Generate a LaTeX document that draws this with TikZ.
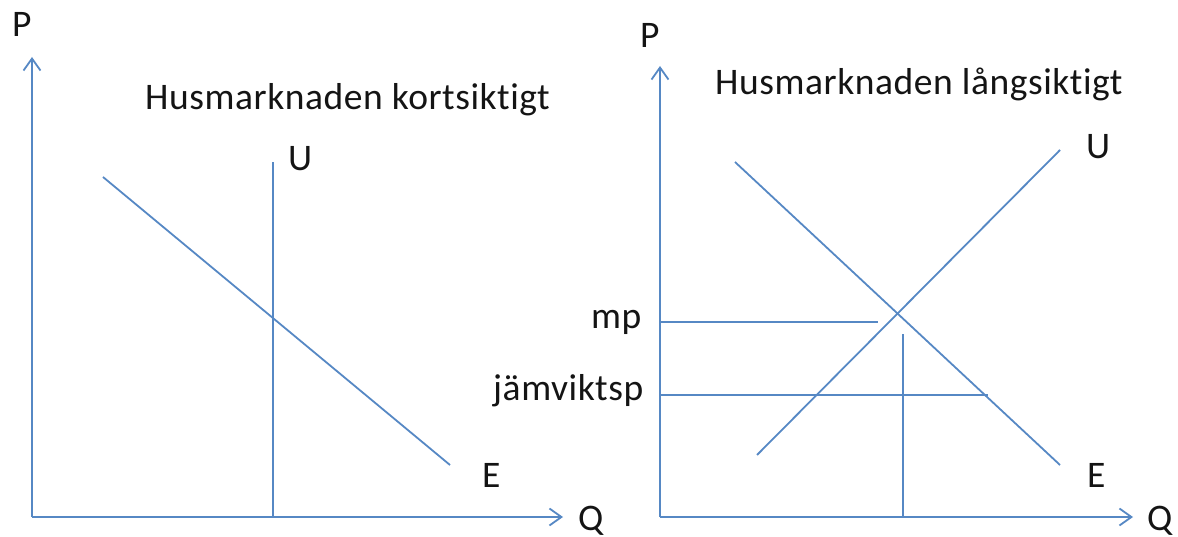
\documentclass[tikz,border=0pt]{standalone}
\usepackage{fontspec}
\setmainfont[Ligatures={NoCommon},LetterSpace=1.5]{Carlito}
\usetikzlibrary{arrows.meta}
\definecolor{lineblue}{RGB}{86,136,196}
\definecolor{txt}{RGB}{20,20,20}
\begin{document}
\begin{tikzpicture}[x=1pt,y=-1pt,
  ln/.style={draw=lineblue,line width=1.8pt},
  axis/.style={ln,-{Straight Barb[length=12pt,width=17pt,line width=1.8pt]}},
  lbl/.style={anchor=base west,inner sep=0pt,text=txt,font=\fontsize{37.5}{44}\selectfont}]
\useasboundingbox (0,0) rectangle (1178,537);
% ---------- left panel ----------
\coordinate (O1) at (32,517);
\coordinate (Y1) at (32,57);
\coordinate (X1) at (563,517);
\draw[axis] (O1) -- (Y1);
\draw[axis] (O1) -- (X1);
\coordinate (U1t) at (273,162);
\coordinate (U1b) at (273,517);
\draw[ln] (U1b) -- (U1t);
\coordinate (E1a) at (103,177);
\coordinate (E1b) at (450,465);
\draw[ln] (E1a) -- (E1b);
\node[lbl] (P1) at (12,37) {P};
\node[lbl] (Q1) at (578,530) {Q};
\node[lbl] (T1) at (145,110) {Husmarknaden kortsiktigt};
\node[lbl] (UL1) at (288,171) {U};
\node[lbl] (EL1) at (482,487) {E};
% ---------- right panel ----------
\coordinate (O2) at (660,517);
\coordinate (Y2) at (660,66);
\coordinate (X2) at (1133,517);
\draw[axis] (O2) -- (Y2);
\draw[axis] (O2) -- (X2);
\coordinate (U2a) at (757,455);
\coordinate (U2b) at (1060,150);
\draw[ln] (U2a) -- (U2b);
\coordinate (E2a) at (735,162);
\coordinate (E2b) at (1060,465);
\draw[ln] (E2a) -- (E2b);
\coordinate (mpa) at (660,322);
\coordinate (mpb) at (878,322);
\draw[ln] (mpa) -- (mpb);
\coordinate (jva) at (660,395);
\coordinate (jvb) at (988,395);
\draw[ln] (jva) -- (jvb);
\coordinate (vt) at (903,334);
\coordinate (vb) at (903,517);
\draw[ln] (vb) -- (vt);
\node[lbl] (P2) at (640,48) {P};
\node[lbl] (Q2) at (1147,530) {Q};
\node[lbl] (T2) at (715,95) {Husmarknaden långsiktigt};
\node[lbl] (UL2) at (1086,159) {U};
\node[lbl] (EL2) at (1087,487) {E};
\node[lbl] (mp) at (591,329) {mp};
\node[lbl] (jv) at (493,400) {jämviktsp};
\end{tikzpicture}
\end{document}
